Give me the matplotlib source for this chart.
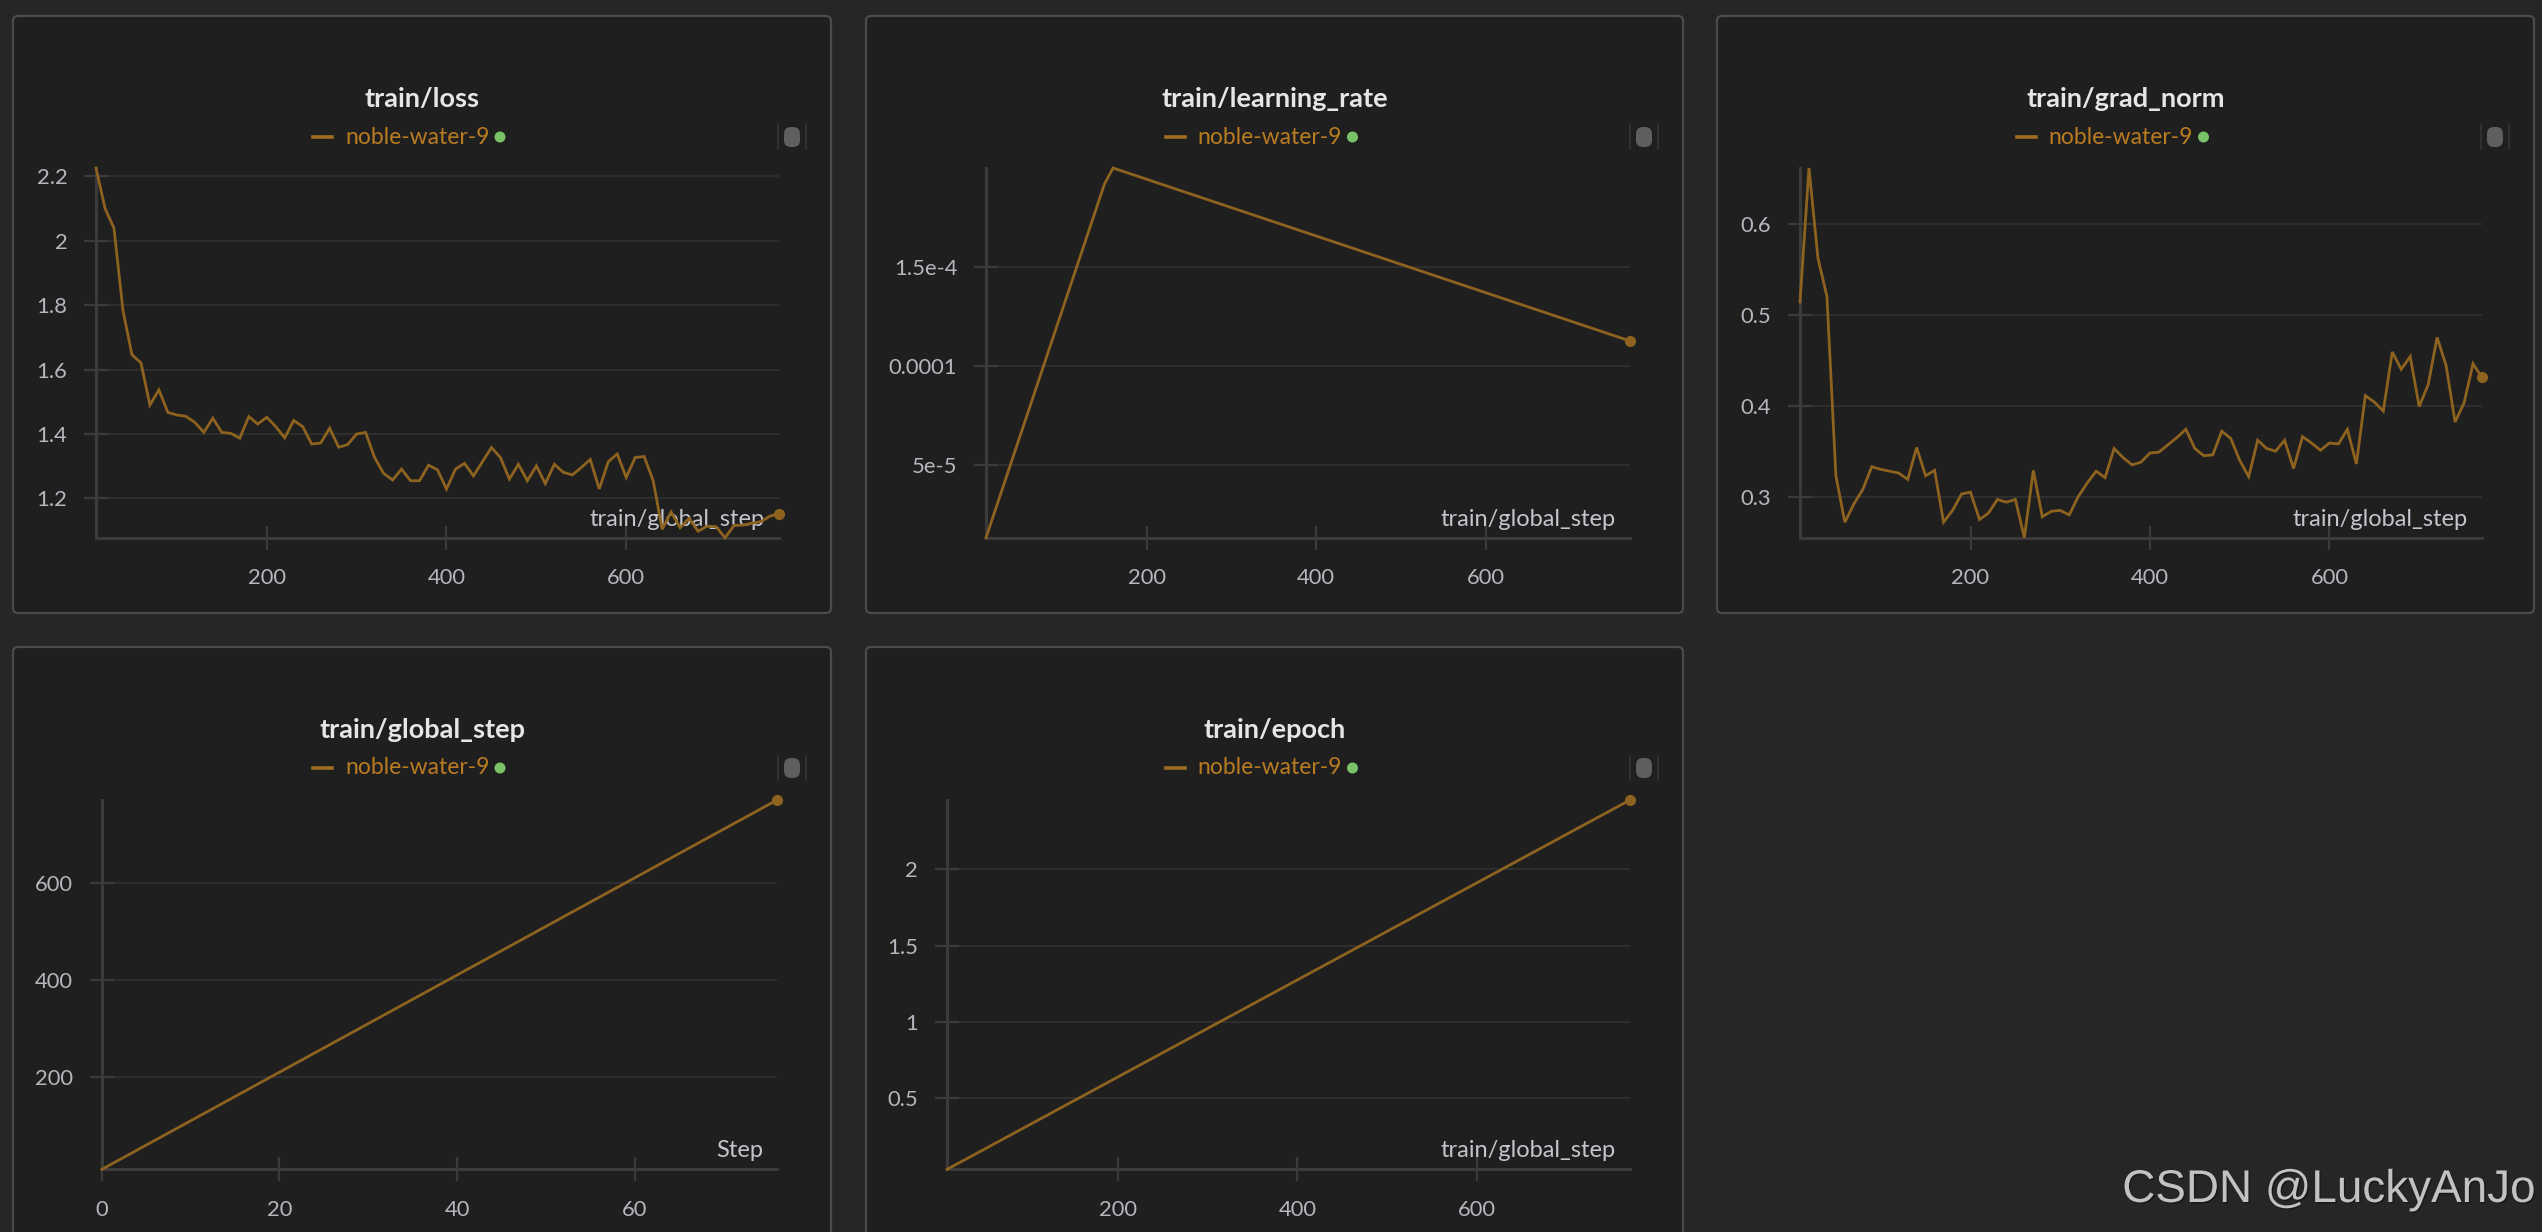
import numpy as np
import matplotlib.pyplot as plt
import matplotlib.patheffects as pe
from matplotlib.patches import FancyBboxPatch, Circle
from matplotlib.lines import Line2D
from matplotlib.transforms import IdentityTransform

W, H = 2542, 1232
DPI = 100
plt.rcParams['font.family'] = ['Lato', 'DejaVu Sans']

# logged every 10 optimizer steps
global_step = list(range(10, 780, 10))
step_idx = list(range(len(global_step)))

loss = [2.226, 2.101, 2.039, 1.784, 1.646, 1.621, 1.490, 1.537, 1.467, 1.459,
        1.455, 1.436, 1.405, 1.449, 1.405, 1.402, 1.387, 1.454, 1.431, 1.452,
        1.423, 1.388, 1.442, 1.423, 1.369, 1.372, 1.418, 1.359, 1.367, 1.400,
        1.405, 1.327, 1.278, 1.257, 1.291, 1.255, 1.255, 1.303, 1.289, 1.229,
        1.291, 1.309, 1.270, 1.314, 1.358, 1.327, 1.260, 1.306, 1.255, 1.301,
        1.246, 1.306, 1.281, 1.273, 1.296, 1.321, 1.229, 1.314, 1.338, 1.265,
        1.327, 1.330, 1.255, 1.104, 1.158, 1.109, 1.138, 1.098, 1.114, 1.112,
        1.078, 1.116, 1.117, 1.123, 1.128, 1.145, 1.153]

grad_norm = [0.514, 0.661, 0.562, 0.520, 0.323, 0.272, 0.292, 0.308, 0.333, 0.330,
             0.328, 0.326, 0.319, 0.354, 0.323, 0.329, 0.272, 0.285, 0.303, 0.305,
             0.275, 0.282, 0.297, 0.294, 0.297, 0.255, 0.329, 0.278, 0.284, 0.285,
             0.280, 0.300, 0.315, 0.328, 0.321, 0.353, 0.343, 0.335, 0.338, 0.348,
             0.349, 0.357, 0.365, 0.374, 0.353, 0.345, 0.346, 0.372, 0.364, 0.340,
             0.322, 0.362, 0.353, 0.350, 0.362, 0.331, 0.366, 0.359, 0.351, 0.359,
             0.358, 0.374, 0.336, 0.411, 0.404, 0.394, 0.459, 0.440, 0.454, 0.399,
             0.423, 0.475, 0.444, 0.382, 0.403, 0.446, 0.431]

# learning rate: warmup then linear decay (corner points)
lr_steps = [10, 150, 160, 770]
lr = [1.3e-5, 1.92e-4, 2.0e-4, 1.126e-4]

epoch_steps = [10, 770]
epoch = [0.035, 2.455]

run_name = 'noble-water-9'

BG = '#262626'
PANEL = '#1f1f1f'
BORDER = '#4b4b4b'
AXIS = '#3b3b3b'
GRID = '#303030'
LINE = '#8e621f'
LEGEND_TXT = '#b97b22'
TICK_TXT = '#b6b6be'

fig = plt.figure(figsize=(W / DPI, H / DPI), dpi=DPI)
fig.patch.set_facecolor(BG)
ident = IdentityTransform()


def panel(x0, y0, x1, y1, title):
    # x/y in image pixels, top-left origin
    box = FancyBboxPatch((x0, H - y1), x1 - x0, y1 - y0,
                         boxstyle='round,pad=0,rounding_size=5',
                         facecolor=PANEL, edgecolor=BORDER, linewidth=1.6,
                         transform=ident, zorder=0)
    fig.add_artist(box)
    cx = (x0 + x1) / 2
    fig.text(cx, H - (y0 + 83), title, transform=ident, ha='center', va='center',
             fontsize=19.5, fontweight='bold', color='#e6e6e6')
    ly = H - (y0 + 121)
    fig.add_artist(Line2D([cx - 109, cx - 90], [ly, ly], color='#a06c22', linewidth=2.6,
                          transform=ident))
    fig.text(cx - 77, ly, run_name, transform=ident, ha='left', va='center',
             fontsize=16.5, color=LEGEND_TXT)
    fig.add_artist(Circle((cx + 78, ly), 5.5, facecolor='#79c267', edgecolor='none',
                          transform=ident))
    # small toggle icon on the right
    ix = x1 - 39
    fig.add_artist(FancyBboxPatch((ix - 8, ly - 10), 16, 20,
                                  boxstyle='round,pad=0,rounding_size=7',
                                  facecolor='#5f5f5f', edgecolor='none', transform=ident))
    for bx in (ix - 14, ix + 14):
        fig.add_artist(Line2D([bx, bx], [ly - 12, ly + 12], color='#353535', linewidth=1.2,
                              transform=ident))


def make_axes(x0, y0, x1, y1):
    ax = fig.add_axes([x0 / W, 1 - y1 / H, (x1 - x0) / W, (y1 - y0) / H])
    ax.set_facecolor('none')
    ax.axis_w = x1 - x0
    ax.axis_h = y1 - y0
    return ax


def style(ax, xlim, ylim, xticks, yticks, yticklabels=None, xlabel='train/global_step'):
    ax.set_xlim(xlim)
    ax.set_ylim(ylim)
    for s in ['top', 'right']:
        ax.spines[s].set_visible(False)
    for s in ['left', 'bottom']:
        ax.spines[s].set_color(AXIS)
        ax.spines[s].set_linewidth(2.2)
    ax.set_xticks(xticks)
    ax.set_xticklabels([str(t) for t in xticks])
    ax.set_yticks(yticks)
    if yticklabels is None:
        yticklabels = ['%g' % t for t in yticks]
    ax.set_yticklabels(yticklabels)
    ax.tick_params(direction='inout', length=17, width=1.6, color=AXIS,
                   labelcolor=TICK_TXT, labelsize=15.8)
    ax.tick_params(axis='y', pad=12.2)
    ax.tick_params(axis='x', pad=13.6)
    ax.grid(axis='y', color=GRID, linewidth=1.3)
    ax.set_axisbelow(True)
    ax.text(1 - 14 / ax.axis_w, 18.7 / ax.axis_h, xlabel, transform=ax.transAxes,
            ha='right', va='center', fontsize=17, color='#c4c4cc', zorder=1)


def draw(ax, x, y):
    ax.plot(x, y, color=LINE, linewidth=2.0, zorder=3, clip_on=False,
            solid_joinstyle='miter')
    ax.plot([x[-1]], [y[-1]], 'o', color=LINE, markersize=7, zorder=4, clip_on=False)


# top row
panel(13, 16, 831, 613, 'train/loss')
panel(866, 16, 1683, 613, 'train/learning_rate')
panel(1717, 16, 2534, 613, 'train/grad_norm')
# bottom row (cut at image edge)
panel(13, 647, 831, 1250, 'train/global_step')
panel(866, 647, 1683, 1250, 'train/epoch')

ax = make_axes(96, 168, 779, 537.7)
draw(ax, global_step, loss)
style(ax, (10, 770), (min(loss), max(loss)), [200, 400, 600], [1.2, 1.4, 1.6, 1.8, 2, 2.2])

ax = make_axes(986, 168, 1629.5, 537.7)
draw(ax, lr_steps, lr)
style(ax, (10, 770), (min(lr), max(lr)), [200, 400, 600], [5e-5, 1e-4, 1.5e-4],
      ['5e-5', '0.0001', '1.5e-4'])

ax = make_axes(1800, 168, 2482, 537.7)
draw(ax, global_step, grad_norm)
style(ax, (10, 770), (min(grad_norm), max(grad_norm)), [200, 400, 600], [0.3, 0.4, 0.5, 0.6])

ax = make_axes(101.8, 800, 777, 1169.4)
draw(ax, step_idx, global_step)
style(ax, (0, 76), (min(global_step), max(global_step)), [0, 20, 40, 60], [200, 400, 600],
      xlabel='Step')

ax = make_axes(947, 800, 1630, 1169.4)
draw(ax, epoch_steps, epoch)
style(ax, (10, 770), (min(epoch), max(epoch)), [200, 400, 600], [0.5, 1, 1.5, 2])

wm = fig.text(2536, H - 1190, 'CSDN @LuckyAnJo', transform=ident, ha='right', va='center',
              fontsize=33, color='#c2c2c2', family=['Liberation Sans', 'DejaVu Sans'])
wm.set_path_effects([pe.withSimplePatchShadow(offset=(1, -1), shadow_rgbFace='#111111', alpha=0.6)])

fig.savefig('out.png', dpi=DPI, facecolor=BG)
